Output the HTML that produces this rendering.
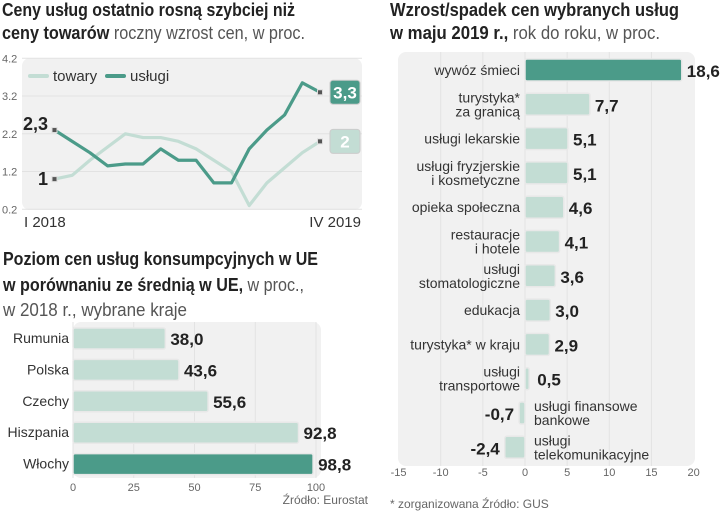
<!DOCTYPE html>
<html><head><meta charset="utf-8">
<style>
body{margin:0;background:#fff;width:720px;height:512px;overflow:hidden;font-family:"Liberation Sans Narrow","Liberation Sans",sans-serif;}
svg{position:absolute;left:0;top:0}
.t{font-weight:bold;font-size:18px;fill:#222}
.s{font-weight:normal;fill:#555}
.ax{font-size:11px;fill:#666}
.lab{font-size:14px;fill:#333}
.val{font-size:17px;font-weight:bold;fill:#222}
</style></head><body>
<svg id="c" width="720" height="512" xmlns="http://www.w3.org/2000/svg">
<text class="t" x="2" y="16" textLength="293" lengthAdjust="spacingAndGlyphs">Ceny usług ostatnio rosną szybciej niż</text>
<text class="t" x="2" y="39" textLength="303" lengthAdjust="spacingAndGlyphs">ceny towarów <tspan class="s">roczny wzrost cen, w proc.</tspan></text>
<text class="t" x="390" y="16" textLength="289" lengthAdjust="spacingAndGlyphs">Wzrost/spadek cen wybranych usług</text>
<text class="t" x="390" y="39" textLength="270" lengthAdjust="spacingAndGlyphs">w maju 2019 r., <tspan class="s">rok do roku, w proc.</tspan></text>
<text class="t" x="3" y="265" textLength="315" lengthAdjust="spacingAndGlyphs">Poziom cen usług konsumpcyjnych w UE</text>
<text class="t" x="3" y="291" textLength="301" lengthAdjust="spacingAndGlyphs">w porównaniu ze średnią w UE, <tspan class="s">w proc.,</tspan></text>
<text class="t" x="3" y="316" textLength="184" lengthAdjust="spacingAndGlyphs"><tspan class="s">w 2018 r., wybrane kraje</tspan></text>
<g id="g1"></g><g id="g2"></g><g id="g3"></g>
<text class="ax" x="368" y="504" text-anchor="end" style="font-size:12px">Źródło: Eurostat</text>
<text class="ax" x="390" y="508" style="font-size:12px">* zorganizowana  Źródło: GUS</text>
</svg>
<script>
// line chart data
const months=["I 2018","II","III","IV","V","VI","VII","VIII","IX","X","XI","XII","I 2019","II","III","IV 2019"];
const uslugi=[2.3,2.0,1.7,1.35,1.4,1.4,1.8,1.5,1.5,0.9,0.9,1.8,2.3,2.7,3.55,3.3];
const towary=[1.0,1.1,1.5,1.85,2.2,2.1,2.1,2.0,1.8,1.5,1.2,0.3,0.9,1.3,1.7,2.0];
const yTicks=[0.2,1.2,2.2,3.2,4.2];
// services chart data
const services=["wywóz śmieci","turystyka*|za granicą","usługi lekarskie","usługi fryzjerskie|i kosmetyczne","opieka społeczna","restauracje|i hotele","usługi|stomatologiczne","edukacja","turystyka* w kraju","usługi|transportowe","usługi finansowe|bankowe","usługi|telekomunikacyjne"];
const serviceVals=[18.6,7.7,5.1,5.1,4.6,4.1,3.6,3.0,2.9,0.5,-0.7,-2.4];
const sTicks=[-15,-10,-5,0,5,10,15,20];
// EU chart data
const countries=["Rumunia","Polska","Czechy","Hiszpania","Włochy"];
const euVals=[38.0,43.6,55.6,92.8,98.8];
const euTicks=[0,25,50,75,100];

const NS="http://www.w3.org/2000/svg";
function mk(p,tag,a,txt){const e=document.createElementNS(NS,tag);for(const k in a)e.setAttribute(k,a[k]);if(txt!=null)e.textContent=txt;p.appendChild(e);return e;}
const fmt=v=>v.toFixed(1).replace('.',',');
const DARK="#4b9b89",LIGHT="#c3ddd4";

// ---- line chart
const g1=document.getElementById('g1');
const lx=i=>54.5+i*(320-54.5)/(months.length-1);
const ly=v=>209.3-(v-0.2)*(151/4);
let bg=mk(g1,'rect',{x:22,y:58,width:340,height:152,rx:8,fill:'#f1f1f1'});


yTicks.forEach(t=>{
 let l=mk(g1,'line',{x1:22,x2:362,y1:ly(t),y2:ly(t),stroke:'#e2e2e2'});
 
 
 let tx=mk(g1,'text',{x:2,y:ly(t)+4,class:'ax'},String(t));
 
 
});
function line(vals,col,name){
 let p=mk(g1,'path',{d:vals.map((v,i)=>(i?'L':'M')+lx(i)+','+ly(v)).join(''),fill:'none',stroke:col,'stroke-width':3.2,'stroke-linejoin':'round'});
 
 
}
line(towary,LIGHT,'towary-line');
line(uslugi,DARK,'uslugi-line');
[[towary,LIGHT,'#fff'],[uslugi,DARK,'#fff']].forEach(([v,c,tc],k)=>{
 [0,v.length-1].forEach(i=>{
  let d=mk(g1,'rect',{x:lx(i)-2.5,y:ly(v[i])-2.5,width:5,height:5,fill:'#555',stroke:'#ddd'});
  
  
 });
 let n=v.length-1;
 let r=mk(g1,'rect',{x:330,y:ly(v[n])-12,width:30,height:24,rx:3,fill:c,stroke:'#ccc'});
 
 
 let t=mk(g1,'text',{x:345,y:ly(v[n])+6,'text-anchor':'middle',class:'val',style:'fill:#fff'},String(v[n]).replace('.',','));
 
 
 let s=mk(g1,'text',{x:48,y:ly(v[0])+(k?0:6),'text-anchor':'end',class:'val',style:'font-size:18px'},String(v[0]).replace('.',','));
 
 
});
[['towary',LIGHT,30],['usługi',DARK,107]].forEach(([n,c,x])=>{
 let l=mk(g1,'line',{x1:x,x2:x+17,y1:76,y2:76,stroke:c,'stroke-width':4,'stroke-linecap':'round'});
 
 
 let t=mk(g1,'text',{x:x+23,y:81,class:'lab',style:'font-size:15px'},n);
 
 
});
let xl=mk(g1,'text',{x:24,y:227,class:'lab',style:'font-size:15px'},months[0]);


let xr=mk(g1,'text',{x:361,y:227,'text-anchor':'end',class:'lab',style:'font-size:15px'},months[months.length-1]);



// ---- services chart
const g2=document.getElementById('g2');
const sx=v=>525+v*8.43;
const sy=i=>70+i*34.3;
let bg2=mk(g2,'rect',{x:398,y:52,width:297,height:414,rx:8,fill:'#f1f1f1'});


sTicks.forEach(t=>{
 if(t>-15&&t<20){let l=mk(g2,'line',{x1:sx(t),x2:sx(t),y1:52,y2:466,stroke:'#e3e3e3'});
 
 }
 let tx=mk(g2,'text',{x:sx(t),y:476,'text-anchor':'middle',class:'ax'},String(t));
 
 
});
services.forEach((name,i)=>{
 const v=serviceVals[i],y=sy(i);
 const x0=Math.min(sx(0),sx(v)),w=Math.max(Math.abs(sx(v)-sx(0)),3);
 let b=mk(g2,'rect',{x:x0,y:y-11,width:w,height:22,rx:2,fill:i==0?DARK:LIGHT,stroke:'#e8e8e8','stroke-width':1.5});
 
 
 const lines=name.split('|');
 const neg=v<0;
 const lxp=neg?sx(0)+9:sx(0)-5;
 lines.forEach((ln,k)=>{
  let t=mk(g2,'text',{x:lxp,y:y+5+(k-(lines.length-1)/2)*14,'text-anchor':neg?'start':'end',class:'lab'},ln);
  
  
 });
 let vt=mk(g2,'text',{x:neg?sx(v)-5:sx(v)+5+(v<1?3:0),y:y+7,'text-anchor':neg?'end':'start',class:'val'},fmt(v));
 
 
});

// ---- EU chart
const g3=document.getElementById('g3');
const ex=v=>73+v*2.43;
const ey=i=>338+i*31.4;
let bg3=mk(g3,'rect',{x:73,y:322,width:248,height:156,rx:8,fill:'#f1f1f1'});


euTicks.forEach(t=>{
 let l=mk(g3,'line',{x1:ex(t),x2:ex(t),y1:322,y2:478,stroke:'#e3e3e3'});
 
 
 let tx=mk(g3,'text',{x:ex(t),y:491,'text-anchor':'middle',class:'ax'},String(t));
 
 
});
countries.forEach((c,i)=>{
 const v=euVals[i],y=ey(i);
 let b=mk(g3,'rect',{x:ex(0),y:y-10,width:ex(v)-ex(0),height:21,rx:2,fill:i==4?DARK:LIGHT,stroke:'#e8e8e8','stroke-width':1.5});
 
 
 let t=mk(g3,'text',{x:69,y:y+5,'text-anchor':'end',class:'lab'},c);
 
 
 let vt=mk(g3,'text',{x:ex(v)+5,y:y+7,class:'val'},fmt(v));
 
 
});
</script>
</body></html>
